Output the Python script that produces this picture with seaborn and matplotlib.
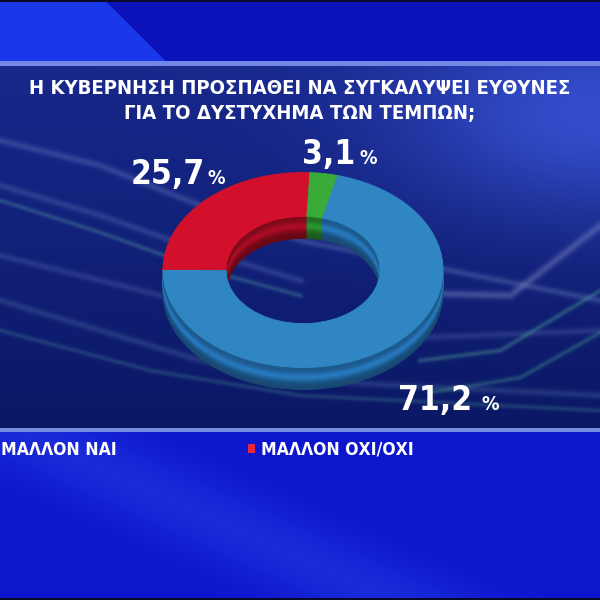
import numpy as np
import matplotlib
matplotlib.use("Agg")
import matplotlib.pyplot as plt
import seaborn as sns
from matplotlib.patches import Patch

# ---------------- data ----------------
categories = ["ΜΑΛΛΟΝ ΝΑΙ", "ΜΑΛΛΟΝ ΟΧΙ/ΟΧΙ", "ΔΓ/ΔΑ"]
values = [71.2, 25.7, 3.1]
title_lines = ["Η ΚΥΒΕΡΝΗΣΗ ΠΡΟΣΠΑΘΕΙ ΝΑ ΣΥΓΚΑΛΥΨΕΙ ΕΥΘΥΝΕΣ",
               "ΓΙΑ ΤΟ ΔΥΣΤΥΧΗΜΑ ΤΩΝ ΤΕΜΠΩΝ;"]
legend_labels = categories[:2]

# ---------------- style ----------------
sns.set_theme(style="white")
plt.rcParams['font.family'] = ['DejaVu Sans']
top_colors = ["#2f86c2", "#d3102c", "#3aab38"]
side_colors = ["#2470b0", "#a00c22", "#2a8a2e"]

W = H = 600
fig = plt.figure(figsize=(6, 6), dpi=100)

# ---------------- decorative background ----------------
bg = fig.add_axes([0, 0, 1, 1])
bg.axis('off')
yy, xx = np.mgrid[0:H, 0:W].astype(float)
img = np.zeros((H, W, 3))

def setc(mask, c):
    img[mask] = np.array(c) / 255.0

setc(yy < 62, (12, 18, 185))
setc((yy < 62) & (xx < 105 + yy * 1.0), (25, 55, 235))
panel = (yy >= 66) & (yy < 428)
t = (yy - 66) / 362.0
for k in range(3):
    top_c = [24, 40, 140][k]
    bot_c = [10, 24, 100][k]
    img[..., k] = np.where(panel, (top_c + (bot_c - top_c) * t) / 255.0, img[..., k])
glow = np.exp(-(((xx - 600) / 200.0) ** 2 + ((yy - 120) / 100.0) ** 2))
img[panel] += (glow[panel][:, None] * np.array([30, 40, 70]) / 255.0)

def polyline_dist(pts):
    pts = np.array(pts, float)
    d = np.full((H, W), 1e9)
    for (x0, y0), (x1, y1) in zip(pts[:-1], pts[1:]):
        vx, vy = x1 - x0, y1 - y0
        L2 = vx * vx + vy * vy
        tt = np.clip(((xx - x0) * vx + (yy - y0) * vy) / L2, 0, 1)
        px, py = x0 + tt * vx, y0 + tt * vy
        d = np.minimum(d, np.hypot(xx - px, yy - py))
    return d

streaks = [
    ([(0, 140), (100, 165), (200, 205), (300, 240), (600, 300)], (120, 140, 200), 3.5, 0.30),
    ([(0, 185), (100, 215), (200, 250), (300, 280)], (120, 140, 200), 3.5, 0.25),
    ([(0, 200), (100, 232), (200, 268), (300, 295)], (90, 170, 160), 2.5, 0.30),
    ([(0, 255), (100, 280), (200, 305), (350, 340), (600, 330)], (120, 140, 200), 3.5, 0.22),
    ([(0, 300), (100, 330), (200, 360), (300, 380), (600, 395)], (110, 150, 190), 3.5, 0.22),
    ([(0, 330), (150, 370), (300, 395), (600, 410)], (90, 170, 160), 2.5, 0.22),
    ([(430, 293), (510, 295), (600, 225)], (130, 140, 200), 4.0, 0.40),
    ([(420, 360), (500, 350), (600, 290)], (80, 170, 150), 2.5, 0.35),
    ([(430, 392), (520, 377), (600, 332)], (80, 170, 150), 2.5, 0.30),
]
for pts, col, wdt, a in streaks:
    d = polyline_dist(pts)
    w = a * np.exp(-(d / wdt) ** 2)
    w = np.where(panel, w, 0)
    img = img * (1 - w[..., None]) + w[..., None] * np.array(col) / 255.0

setc((yy >= 61) & (yy < 66), (115, 135, 228))
setc((yy >= 428) & (yy < 432), (120, 140, 228))
bot = (yy >= 432)
setc(bot, (12, 22, 205))
band = np.exp(-((((yy - 432) - (xx - 20) * 0.45)) / 45.0) ** 2) * bot
img = img * (1 - 0.35 * band[..., None]) + 0.35 * band[..., None] * np.array([50, 80, 240]) / 255.0
setc(yy < 2, (8, 10, 40))
setc(yy >= 598, (8, 10, 40))
img = np.clip(img, 0, 1)
bg.imshow(img, extent=[0, W, H, 0], aspect='auto', interpolation='bilinear')
bg.set_xlim(0, W)
bg.set_ylim(H, 0)

# ---------------- 3D donut ----------------
cx, cy, rx, ry = 303, 270, 140, 97.5
ax = fig.add_axes([(cx - 1.25 * rx) / W, (H - (cy + 1.25 * ry)) / H,
                   2.5 * rx / W, 2.5 * ry / H])
depth = 22.0 / ry
N = 24
start = 76
for k in range(N, 0, -1):
    f = k / N
    shade = 0.8 + 0.35 * np.exp(-((f - 0.45) / 0.2) ** 2) - 0.15 * f
    cols = [np.clip(np.array(matplotlib.colors.to_rgb(sc)) * shade, 0, 1) for sc in side_colors]
    ws, _ = ax.pie(values, colors=cols, startangle=start, counterclock=False,
                   center=(0, -depth * f), radius=1.0,
                   wedgeprops=dict(width=0.45, linewidth=0.6))
    for w_ in ws:
        w_.set_edgecolor(w_.get_facecolor())
wedges, _ = ax.pie(values, colors=top_colors, startangle=start, counterclock=False,
                   center=(0, 0), radius=1.0,
                   wedgeprops=dict(width=0.45, linewidth=0.6))
for w_ in wedges:
    w_.set_edgecolor(w_.get_facecolor())
ax.set_xlim(-1.25, 1.25)
ax.set_ylim(-1.25, 1.25)
ax.set_aspect('auto')
ax.axis('off')

# ---------------- labels ----------------
def fmt(v):
    return f"{v:.1f}".replace('.', ',')

label_pos = [(472, 410, 481), (205, 184, 208), (355, 164, 360)]
for v, (xr, yb, xp) in zip(values, label_pos):
    fig.text(xr / W, 1 - yb / H, fmt(v), ha='right', va='baseline', color='white',
             fontsize=24, fontweight='bold', fontstretch='condensed')
    fig.text(xp / W, 1 - yb / H, "%", ha='left', va='baseline', color='white',
             fontsize=14, fontweight='bold', fontstretch='condensed')

# ---------------- title ----------------
for i, line in enumerate(title_lines):
    fig.text(0.5, 1 - (89 + 24 * i) / H, line, ha='center', va='center', color='white',
             fontsize=14.6, fontweight='bold', fontstretch='condensed')

# ---------------- legend ----------------
handles = [Patch(facecolor=top_colors[0], edgecolor='none'),
           Patch(facecolor="#e8283a", edgecolor='none')]
fig.legend(handles, legend_labels, ncol=2, loc='center left',
           bbox_to_anchor=(-28 / W, 1 - 450 / H), frameon=False,
           handlelength=0.45, handleheight=0.45, handletextpad=0.3,
           columnspacing=7.48, labelcolor='white',
           prop=dict(weight='bold', size=12.6, stretch='condensed'))

fig.savefig("out.png", dpi=100)
